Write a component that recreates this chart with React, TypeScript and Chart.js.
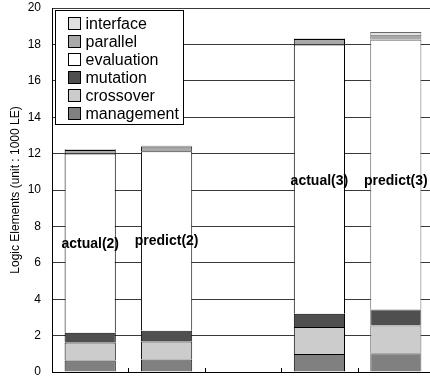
import React, { useEffect, useRef } from "react";
import { Chart, registerables } from "chart.js";

Chart.register(...registerables);

const categories = ["actual(2)", "predict(2)", "", "actual(3)", "predict(3)"];
const labelY = [7.05, 7.2, null, 10.5, 10.5];

const management = [0.63, 0.68, null, 0.99, 1.03];
const crossover = [0.99, 0.99, null, 1.48, 1.52];
const mutation = [0.54, 0.6, null, 0.73, 0.88];
const evaluation = [9.84, 9.86, null, 14.79, 14.83];
const parallel = [0.2, 0.26, null, 0.31, 0.27];
const iface = [0.04, 0.04, null, 0.03, 0.15];

const seriesNames = ["management", "crossover", "mutation", "evaluation", "parallel", "interface"];
const seriesColors = ["#808080", "#cccccc", "#4f4f4f", "#ffffff", "#a9a9a9", "#e0e0e0"];
const seriesData = [management, crossover, mutation, evaluation, parallel, iface];
const barBorderColors = ["#000", "#1a1a1a", "#000", "#000", "#6a6a6a"];

const yTicksMin = 0;
const yTicksMax = 20;
const yStep = 2;

const barLabelPlugin = {
  id: "barLabels",
  afterDatasetsDraw(chart: any) {
    const { ctx, scales } = chart;
    const x = scales.x;
    const y = scales.y;
    ctx.save();
    ctx.font = "bold 14px Arial, 'Liberation Sans', sans-serif";
    ctx.fillStyle = "#000";
    ctx.textAlign = "center";
    ctx.textBaseline = "middle";
    categories.forEach((c, i) => {
      const v = labelY[i];
      if (!c || v == null) return;
      ctx.fillText(c, x.getPixelForValue(i), y.getPixelForValue(v));
    });
    ctx.strokeStyle = "#000";
    ctx.lineWidth = 1;
    const bottom = chart.chartArea.bottom;
    for (let i = 0; i < categories.length - 1; i++) {
      const bx = Math.round((x.getPixelForValue(i) + x.getPixelForValue(i + 1)) / 2) + 0.5;
      ctx.beginPath();
      ctx.moveTo(bx, bottom);
      ctx.lineTo(bx, bottom - 4);
      ctx.stroke();
    }
    ctx.restore();
  },
};

const legendPlugin = {
  id: "boxLegend",
  afterDraw(chart: any) {
    const { ctx, chartArea } = chart;
    const left = chartArea.left + 3.5;
    const top = chartArea.top + 2.5;
    const w = 128;
    const h = 114;
    ctx.save();
    ctx.fillStyle = "#fff";
    ctx.fillRect(left, top, w, h);
    ctx.strokeStyle = "#000";
    ctx.lineWidth = 1;
    ctx.strokeRect(left, top, w, h);
    const ds = chart.data.datasets.slice().reverse();
    ctx.font = "16px Arial, 'Liberation Sans', sans-serif";
    ctx.textBaseline = "middle";
    ctx.textAlign = "left";
    ds.forEach((d: any, i: number) => {
      const cy = top + 13 + i * 18;
      ctx.fillStyle = d.backgroundColor;
      ctx.fillRect(left + 13, cy - 6, 12, 12);
      ctx.strokeStyle = "#000";
      ctx.strokeRect(left + 13, cy - 6, 12, 12);
      ctx.fillStyle = "#000";
      ctx.fillText(d.label, left + 30, cy + 1);
    });
    ctx.restore();
  },
};

export default function App() {
  const ref = useRef<HTMLCanvasElement | null>(null);
  useEffect(() => {
    document.body.style.margin = "0";
    if (!ref.current) return;
    const chart = new Chart(ref.current, {
      type: "bar",
      data: {
        labels: categories,
        datasets: seriesNames.map((n, i) => ({
          label: n,
          data: seriesData[i] as any,
          backgroundColor: seriesColors[i],
          borderColor: barBorderColors,
          borderWidth: 1,
          barPercentage: 0.67,
          categoryPercentage: 1,
        })),
      },
      options: {
        animation: false,
        responsive: false,
        maintainAspectRatio: false,
        layout: { padding: { top: 8, left: 0, right: 0, bottom: 0 } },
        plugins: { legend: { display: false }, tooltip: { enabled: false } },
        scales: {
          x: {
            stacked: true,
            offset: true,
            grid: { display: false },
            border: { display: true, color: "#000" },
            ticks: { display: false },
            afterFit: (s: any) => {
              s.height = 6;
              s.paddingLeft = 0;
              s.paddingRight = 0;
            },
          },
          y: {
            stacked: true,
            min: yTicksMin,
            max: yTicksMax,
            ticks: {
              stepSize: yStep,
              color: "#000",
              padding: 11,
              font: { size: 12, family: "Arial, 'Liberation Sans', sans-serif" },
            },
            grid: { color: "#3a3a3a", drawTicks: false },
            border: { display: true, color: "#000" },
            title: {
              display: true,
              text: "Logic Elements (unit : 1000 LE)",
              color: "#000",
              font: { size: 12, family: "Arial, 'Liberation Sans', sans-serif" },
              padding: { top: 8, bottom: 0 },
            },
            afterFit: (s: any) => {
              s.width = 52;
              s.paddingTop = 0;
              s.paddingBottom = 0;
            },
          },
        },
      },
      plugins: [barLabelPlugin, legendPlugin],
    });
    return () => chart.destroy();
  }, []);
  return (
    <div style={{ width: 430, height: 378, overflow: "hidden", position: "relative", background: "#fff" }}>
      <canvas ref={ref} width={434} height={378} style={{ display: "block" }} />
    </div>
  );
}
